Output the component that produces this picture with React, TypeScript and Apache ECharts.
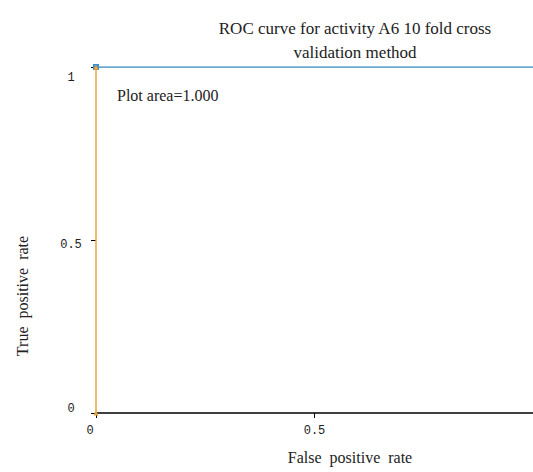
import React, { useEffect, useRef } from "react";
import * as echarts from "echarts";

const titleLines = ["ROC curve for activity A6 10 fold cross", "validation method"];
const xTicks = [0, 0.5];
const yTicks = [0, 0.5, 1];
const fprOrange = [0, 0];
const tprOrange = [0, 1];
const fprBlue = [0, 1];
const tprBlue = [1, 1];
const plotArea = "Plot area=1.000";
const xName = "False  positive  rate";
const yName = "True  positive  rate";

export default function App() {
  const ref = useRef<HTMLDivElement>(null);
  useEffect(() => {
    if (!ref.current) return;
    const chart = echarts.init(ref.current, null, { renderer: "svg" });
    const serif = "Liberation Serif, DejaVu Serif, serif";
    const mono = "Liberation Mono, DejaVu Sans Mono, monospace";
    chart.setOption({
      animation: false,
      backgroundColor: "#ffffff",
      title: {
        text: titleLines.join("\n"),
        left: 350,
        textAlign: "center",
        top: 11,
        textStyle: { fontFamily: serif, fontSize: 17, fontWeight: "normal", color: "#222", lineHeight: 24 },
      },
      grid: { left: 96, top: 67, width: 444, height: 346 },
      xAxis: {
        type: "value",
        min: 0,
        max: 1,
        interval: 0.5,
        axisLine: { show: true, lineStyle: { color: "#000", width: 1.5 } },
        axisTick: { show: true, length: 5, customValues: xTicks, lineStyle: { color: "#000" } },
        splitLine: { show: false },
        axisLabel: {
          fontFamily: mono,
          fontSize: 12,
          color: "#222",
          margin: 12,
          customValues: xTicks,
          formatter: (v: number) => (xTicks.includes(v) ? (v === 0 ? "{z|0}" : String(v)) : ""),
          rich: { z: { fontFamily: mono, fontSize: 12, color: "#222", padding: [0, 12, 0, 0] } },
        },
      },
      yAxis: {
        type: "value",
        min: 0,
        max: 1,
        interval: 0.5,
        axisLine: { show: false },
        axisTick: { show: true, length: 5, lineStyle: { color: "#000" } },
        splitLine: { show: false },
        axisLabel: {
          fontFamily: mono,
          fontSize: 12,
          color: "#222",
          margin: 25,
          align: "center",
          formatter: (v: number) => {
            if (!yTicks.includes(v)) return "";
            if (v === 1) return "{d|1}";
            if (v === 0.5) return "{m|0.5}";
            return "{u|0}";
          },
          rich: {
            d: { fontFamily: mono, fontSize: 12, color: "#222", padding: [22, 0, 0, 0] },
            m: { fontFamily: mono, fontSize: 12, color: "#222", padding: [10, 0, 0, 0] },
            u: { fontFamily: mono, fontSize: 12, color: "#222", padding: [0, 0, 8, 0] },
          },
        },
      },
      series: [
        {
          type: "line",
          data: fprBlue.map((x, i) => [x, tprBlue[i]]),
          lineStyle: { color: "#3b8fc0", width: 1.5 },
          itemStyle: { color: "#3a8fd0" },
          symbol: "rect",
          symbolSize: (_v: any, p: any) => (p.dataIndex === 0 ? 6 : 0),
          showSymbol: true,
          z: 3,
        },
        {
          type: "line",
          data: fprOrange.map((x, i) => [x, tprOrange[i]]),
          lineStyle: { color: "#eba53a", width: 1.5 },
          itemStyle: { color: "#eba53a" },
          symbol: "triangle",
          symbolSize: 5,
          showSymbol: true,
          z: 4,
        },
      ],
      graphic: [
        {
          type: "text",
          left: 117,
          top: 87,
          style: { text: plotArea, font: `16px ${serif}`, fill: "#222" },
        },
        {
          type: "text",
          x: 350,
          y: 457,
          style: { text: xName, font: `16px ${serif}`, fill: "#222", align: "center", verticalAlign: "middle" },
        },
        {
          type: "text",
          x: 22,
          y: 296,
          rotation: Math.PI / 2,
          style: { text: yName, font: `16px ${serif}`, fill: "#222", align: "center", verticalAlign: "middle" },
        },
      ],
    });
    return () => chart.dispose();
  }, []);
  return <div ref={ref} style={{ position: "absolute", left: 0, top: 0, width: 533, height: 472 }} />;
}
